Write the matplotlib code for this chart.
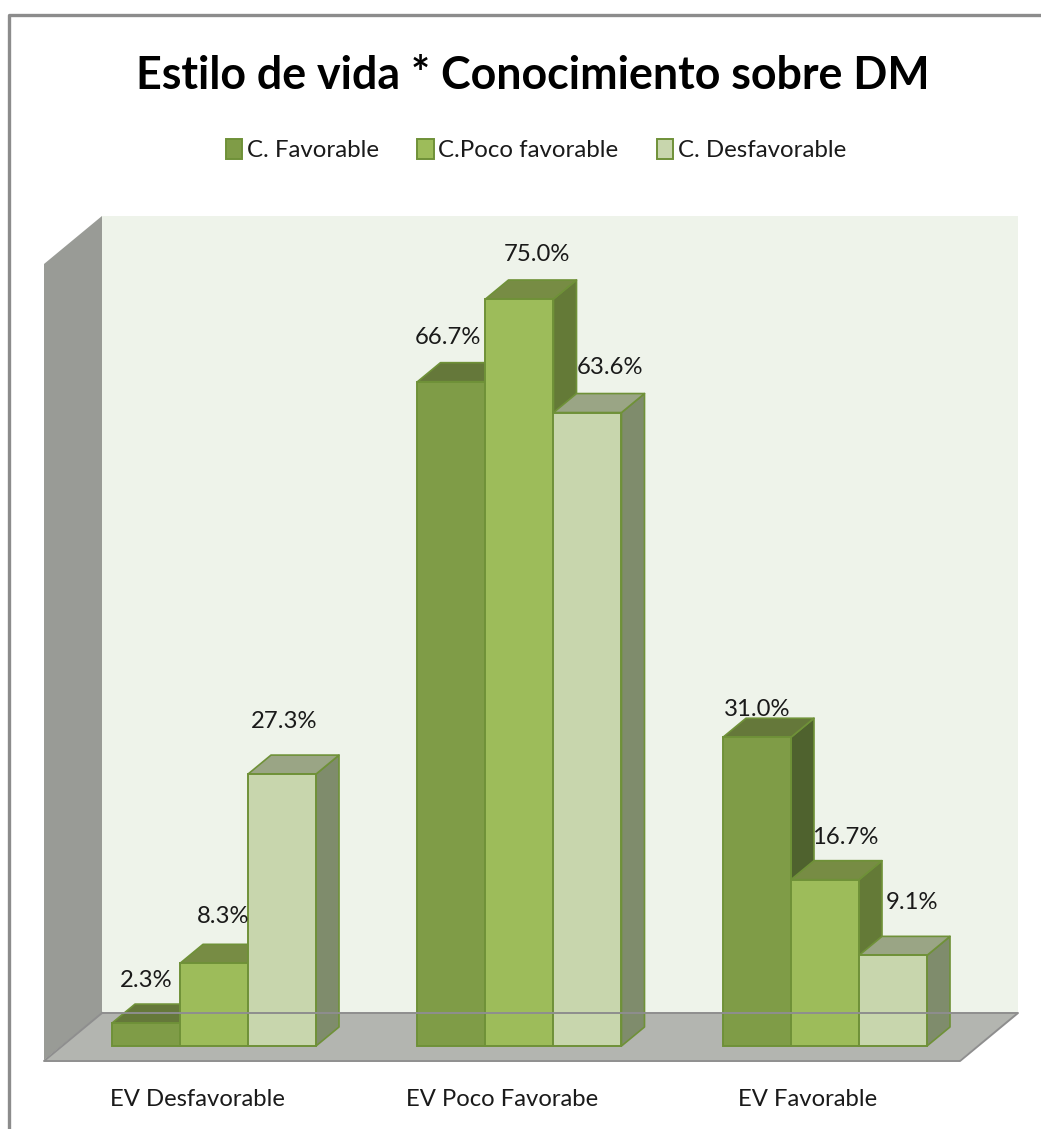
import matplotlib
matplotlib.use("Agg")
import matplotlib.pyplot as plt
from matplotlib.patches import Polygon, Patch
from matplotlib.lines import Line2D

# ---- data ----
categories = ["EV Desfavorable", "EV Poco Favorabe", "EV Favorable"]
series_names = ["C. Favorable", "C.Poco favorable", "C. Desfavorable"]
favorable = [2.3, 66.7, 31.0]
poco_favorable = [8.3, 75.0, 16.7]
desfavorable = [27.3, 63.6, 9.1]
title = "Estilo de vida * Conocimiento sobre DM"

# ---- styles / layout ----
W, H = 1041, 1129
plt.rcParams["font.family"] = ["Lato", "DejaVu Sans"]
front_cols = ["#7F9C47", "#9DBC5A", "#C8D6AD"]
top_cols = [["#65783A", "#778C44", "#9AA585"]] * 3
side_cols = [["#4F622E", "#647A37", "#7F8C6C"]] * 3
edge = "#6F9138"
PX_X = 305.5   # pixels per category
PX_Y = 9.96    # pixels per percent
X0, Y0 = 214, 1046
bw = 68 / PX_X
dx, dy = 23 / PX_X, 19 / PX_Y
label_off = [[(0, 43), (9, 47), (2, 53)],
             [(-4, 44), (17, 44), (23, 45)],
             [(0, 28), (20, 42), (19, 53)]]

fig = plt.figure(figsize=(W / 100, H / 100), dpi=100, facecolor="white")
ax = fig.add_axes([0, 0, 1, 1])
ax.set_xlim(-X0 / PX_X, (W - X0) / PX_X)
ax.set_ylim(-(H - Y0) / PX_Y, Y0 / PX_Y)
ax.axis("off")


def px(x, y):
    return ((x - X0) / PX_X, (Y0 - y) / PX_Y)


# chart frame
ax.add_line(Line2D(*zip(px(9, 1129), px(9, 15), px(1041, 15)), color="#8C8C8C", lw=2.4))
# walls and floor
ax.add_patch(Polygon([px(102, 216), px(1018, 216), px(1018, 1013), px(102, 1013)], fc="#EEF3EA", ec="none"))
ax.add_patch(Polygon([px(44, 264), px(102, 216), px(102, 1013), px(44, 1060)], fc="#999B96", ec="none"))
ax.add_patch(Polygon([px(44, 1060), px(102, 1013), px(1018, 1013), px(960, 1060)], fc="#B3B5B0", ec="none"))
ax.add_line(Line2D(*zip(px(102, 1013), px(1018, 1013), px(960, 1061), px(44, 1061), px(102, 1013)), color="#8E8E8E", lw=1.4))

series = [favorable, poco_favorable, desfavorable]
for g in range(len(categories)):
    for s, vals in enumerate(series):
        v = vals[g]
        x0 = g + (s - 1.5) * bw
        x1 = x0 + bw
        kw = dict(ec=edge, lw=1.2, joinstyle="round")
        ax.add_patch(Polygon([(x1, 0), (x1 + dx, dy), (x1 + dx, v + dy), (x1, v)], fc=side_cols[g][s], **kw))
        ax.add_patch(Polygon([(x0, v), (x1, v), (x1 + dx, v + dy), (x0 + dx, v + dy)], fc=top_cols[g][s], **kw))
        ax.bar(x0, v, width=bw, align="edge", color=front_cols[s], edgecolor=edge, linewidth=1.4)
        ax.annotate(f"{v:.1f}%", (x0 + bw / 2, v), xytext=label_off[g][s], textcoords="offset pixels",
                    ha="center", va="center", fontsize=17.2, color="#1A1A1A", zorder=5)
    ax.text(*px(X0 + g * PX_X - 17, 1100), categories[g], ha="center", va="center", fontsize=17.2, color="#1A1A1A")

ax.text(*px(533, 76), title, ha="center", va="center", fontsize=32.2, fontweight="bold", color="black")

handles = [Patch(fc=c, ec=edge, lw=1.4) for c in front_cols]
ax.legend(handles, series_names, loc="center", bbox_to_anchor=(536 / W, 1 - 150 / H), ncols=3, frameon=False,
          fontsize=17.3, handlelength=0.68, handleheight=0.95, handletextpad=0.2, columnspacing=1.6,
          labelcolor="#1A1A1A")

fig.savefig("out.png", dpi=100)
